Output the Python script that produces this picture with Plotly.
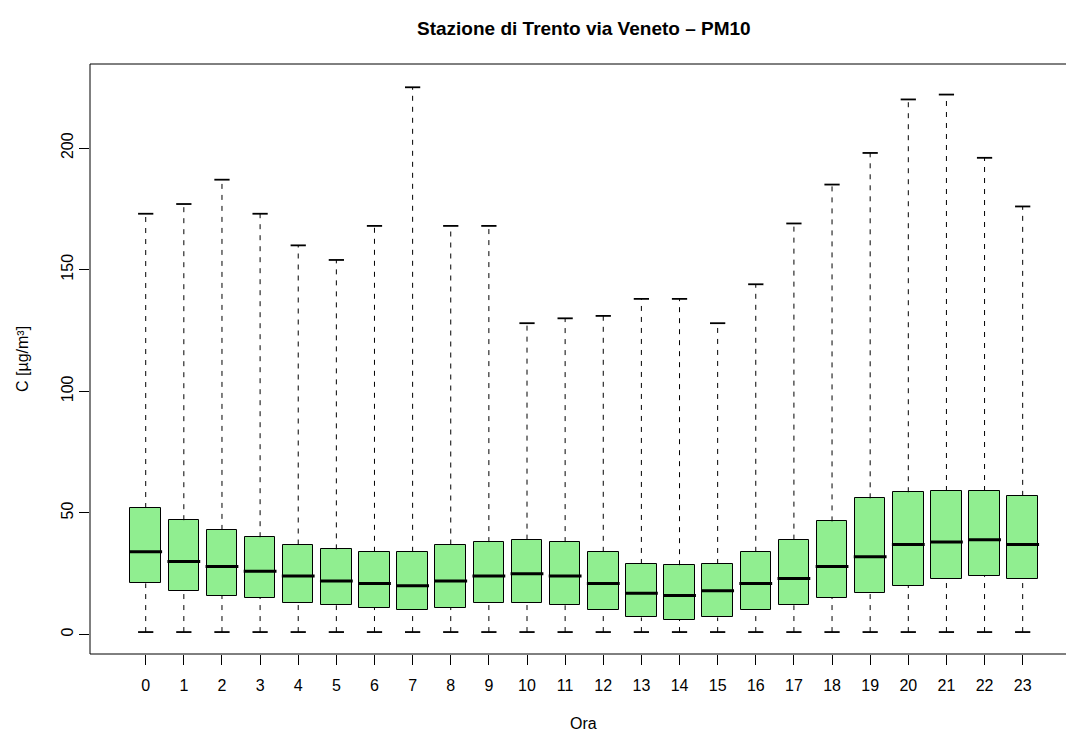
import plotly.graph_objects as go

# ---- data ----
hours = list(range(24))
hour_labels = [str(h) for h in hours]
q1 = [21, 18, 16, 15, 13, 12, 11, 10, 11, 13, 13, 12,
      10, 7, 6, 7, 10, 12, 15, 17, 20, 23, 24, 23]
median = [34, 30, 28, 26, 24, 22, 21, 20, 22, 24, 25, 24,
          21, 17, 16, 18, 21, 23, 28, 32, 37, 38, 39, 37]
q3 = [52, 47, 43, 40, 37, 35, 34, 34, 37, 38, 39, 38,
      34, 29, 28.5, 29, 34, 39, 46.5, 56, 58.5, 59, 59, 57]
lower = [1] * 24
upper = [173, 177, 187, 173, 160, 154, 168, 225, 168, 168, 128, 130,
         131, 138, 138, 128, 144, 169, 185, 198, 220, 222, 196, 176]
y_ticks = [0, 50, 100, 150, 200]

title_text = "Stazione di Trento via Veneto \u2013 PM10"
x_title = "Ora"
y_title = "C [\u00b5g/m\u00b3]"

# ---- styling ----
FONT = "Liberation Sans, Arial, Helvetica, sans-serif"
BOX_W = 0.8
CAP_W = 0.4
FILL = "#90EE90"

fig = go.Figure()

# boxes
fig.add_trace(go.Bar(
    x=hours, y=[b - a for a, b in zip(q1, q3)], base=q1, width=BOX_W,
    marker=dict(color=FILL, line=dict(color="black", width=1)),
    hoverinfo="skip", showlegend=False))

def segs(xs0, xs1, ys0, ys1):
    X, Y = [], []
    for a, b, c, d in zip(xs0, xs1, ys0, ys1):
        X += [a, b, None]
        Y += [c, d, None]
    return X, Y

# whiskers (dashed)
wx, wy = segs(hours, hours, q3, upper)
lx, ly = segs(hours, hours, lower, q1)
fig.add_trace(go.Scatter(x=wx + lx, y=wy + ly, mode="lines",
                         line=dict(color="black", width=1, dash="5px,6px"),
                         hoverinfo="skip", showlegend=False))
# caps
cx0 = [h - CAP_W / 2 for h in hours]
cx1 = [h + CAP_W / 2 for h in hours]
ux, uy = segs(cx0, cx1, upper, upper)
dx, dy = segs(cx0, cx1, lower, lower)
fig.add_trace(go.Scatter(x=ux + dx, y=uy + dy, mode="lines",
                         line=dict(color="black", width=1.8),
                         hoverinfo="skip", showlegend=False))
# medians
mx, my = segs([h - BOX_W / 2 - 0.03 for h in hours],
              [h + BOX_W / 2 + 0.03 for h in hours], median, median)
fig.add_trace(go.Scatter(x=mx, y=my, mode="lines",
                         line=dict(color="black", width=3),
                         hoverinfo="skip", showlegend=False))

fig.update_layout(
    width=1066, height=734,
    margin=dict(l=90, r=0, t=64, b=80),
    paper_bgcolor="white", plot_bgcolor="white",
    font=dict(family=FONT, size=16, color="black"),
    title=dict(text="<b>" + title_text + "</b>", x=0.506, xref="paper",
               xanchor="center", y=1 - 28 / 734, yref="container",
               yanchor="middle", font=dict(size=19, family=FONT, color="black")),
    xaxis=dict(range=[-1.461, 24.136], tickmode="array", tickvals=hours,
               ticktext=hour_labels, ticks="outside", ticklen=10,
               tickcolor="black", showgrid=False, zeroline=False,
               showline=False, tickfont=dict(size=16), ticklabelstandoff=7),
    yaxis=dict(range=[-8.02, 234.57], tickmode="array", tickvals=y_ticks,
               ticktext=[str(v) for v in y_ticks], ticks="outside",
               ticklen=10, tickcolor="black", tickangle=-90,
               showgrid=False, zeroline=False, showline=False,
               tickfont=dict(size=16)),
    bargap=0,
    annotations=[
        dict(text=x_title, x=0.506, xref="paper", y=-0.117, yref="paper",
             xanchor="center", yanchor="middle", showarrow=False,
             font=dict(size=16)),
        dict(text=y_title, x=-0.0697, xref="paper", y=0.5, yref="paper",
             xanchor="center", yanchor="middle", textangle=-90,
             showarrow=False, font=dict(size=16)),
    ],
    shapes=[
        dict(type="line", xref="paper", yref="paper", x0=0, x1=0, y0=0, y1=1,
             line=dict(color="black", width=1)),
        dict(type="line", xref="paper", yref="paper", x0=0, x1=1, y0=1, y1=1,
             line=dict(color="black", width=1)),
        dict(type="line", xref="paper", yref="paper", x0=0, x1=1, y0=0, y1=0,
             line=dict(color="black", width=1)),
    ],
)

fig.write_html("out.html",
               config={"displayModeBar": False},
               post_script="document.body.style.margin='0px';"
                           "document.body.style.overflow='hidden';")
